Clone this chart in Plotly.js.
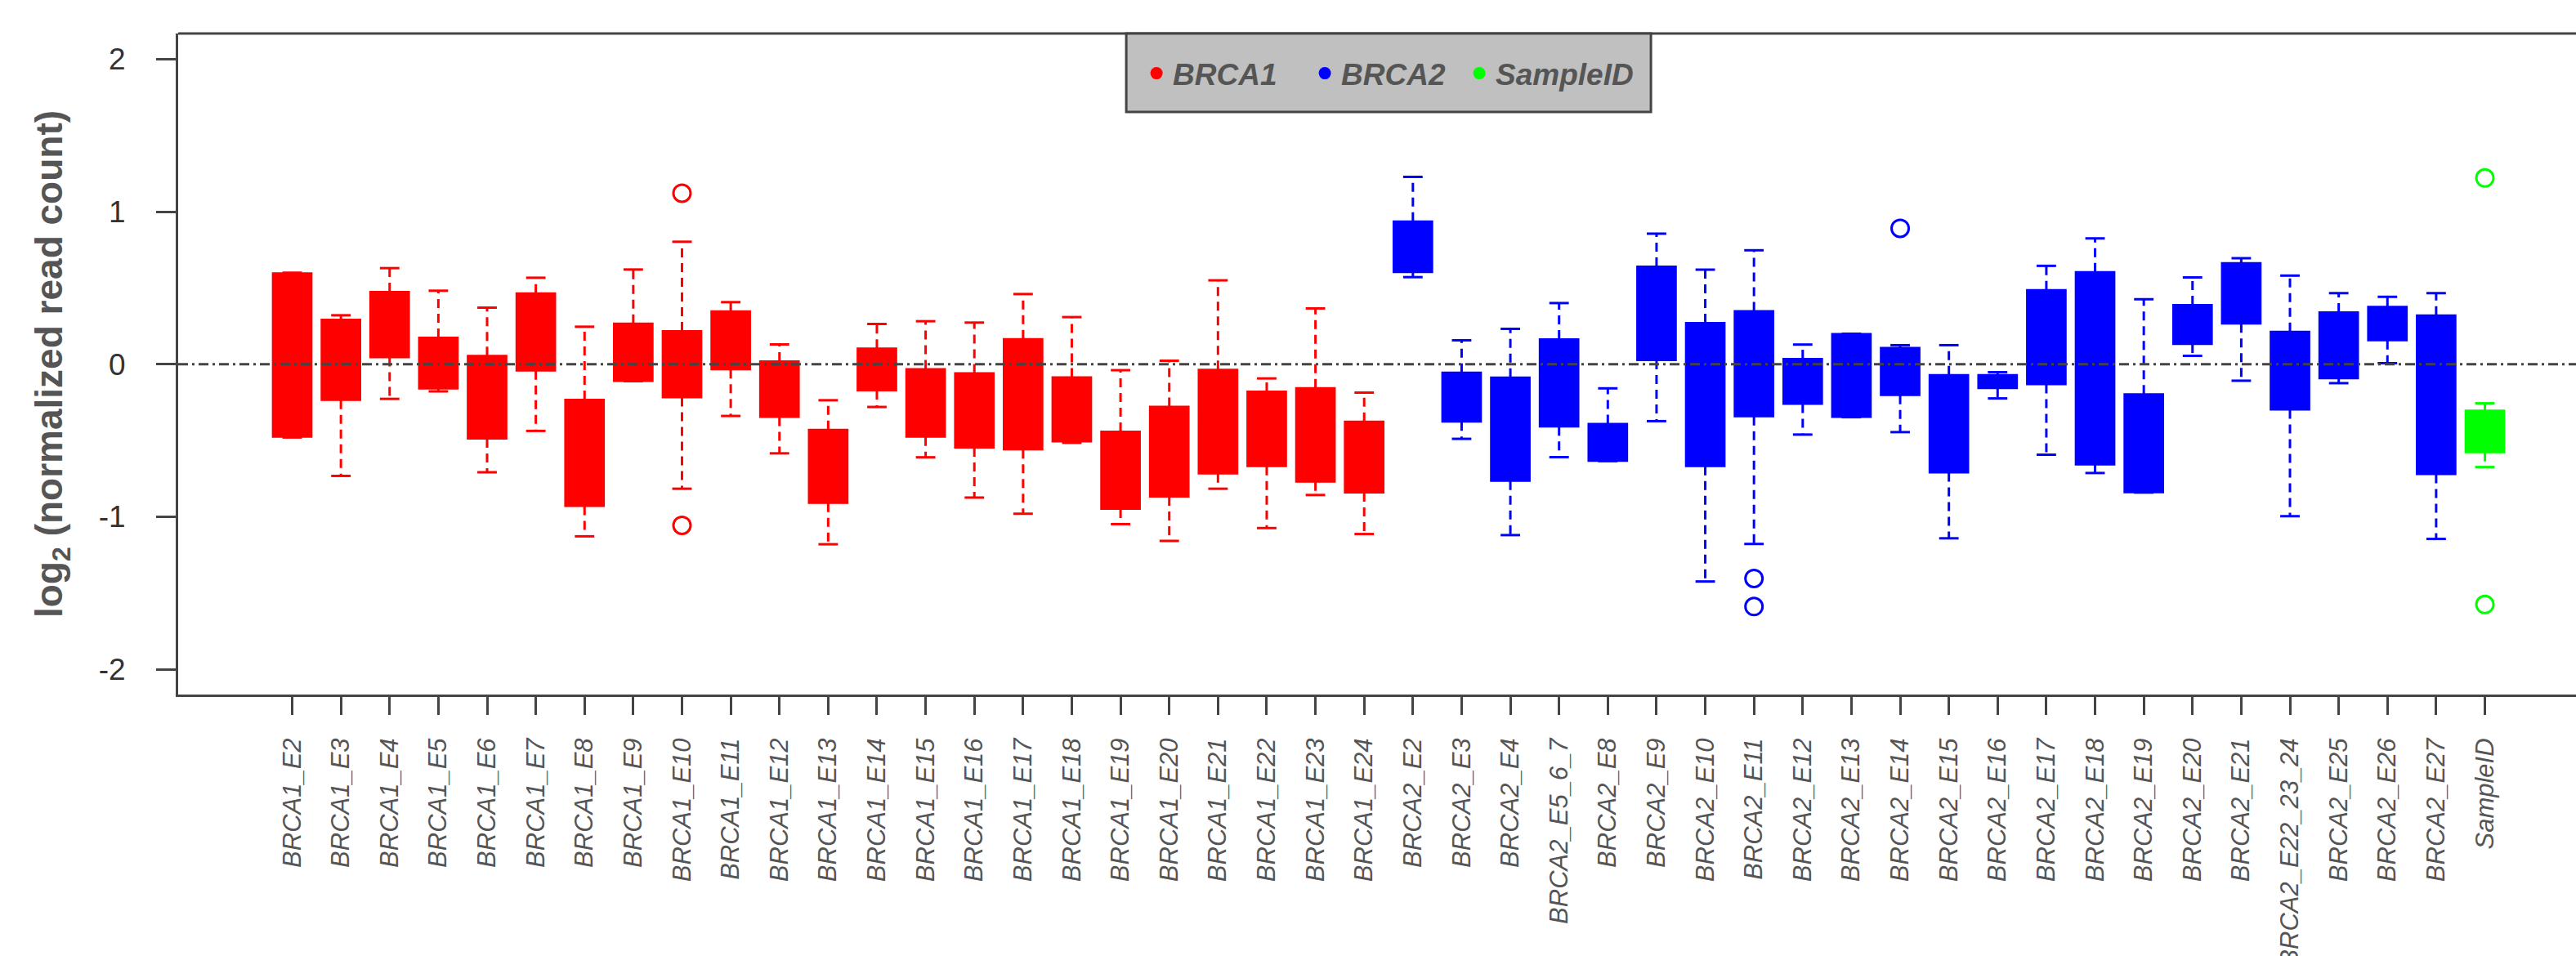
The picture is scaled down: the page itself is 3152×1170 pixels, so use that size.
<!DOCTYPE html>
<html>
<head>
<meta charset="utf-8">
<script src="https://cdn.plot.ly/plotly-3.0.1.min.js"></script>
<style>html,body{margin:0;padding:0;background:#fff;}#chart{width:3152px;height:1170px;}</style>
</head>
<body>
<div id="chart"></div>
<script>
// ---------------- DATA ----------------
var categories = [
  "BRCA1_E2","BRCA1_E3","BRCA1_E4","BRCA1_E5","BRCA1_E6","BRCA1_E7","BRCA1_E8","BRCA1_E9",
  "BRCA1_E10","BRCA1_E11","BRCA1_E12","BRCA1_E13","BRCA1_E14","BRCA1_E15","BRCA1_E16","BRCA1_E17",
  "BRCA1_E18","BRCA1_E19","BRCA1_E20","BRCA1_E21","BRCA1_E22","BRCA1_E23","BRCA1_E24",
  "BRCA2_E2","BRCA2_E3","BRCA2_E4","BRCA2_E5_6_7","BRCA2_E8","BRCA2_E9","BRCA2_E10","BRCA2_E11",
  "BRCA2_E12","BRCA2_E13","BRCA2_E14","BRCA2_E15","BRCA2_E16","BRCA2_E17","BRCA2_E18","BRCA2_E19",
  "BRCA2_E20","BRCA2_E21","BRCA2_E22_23_24","BRCA2_E25","BRCA2_E26","BRCA2_E27","SampleID"
];
var upperWhisker = [0.600,0.321,0.630,0.482,0.371,0.567,0.246,0.621,0.803,0.407,0.130,-0.236,0.264,0.282,0.273,0.460,0.309,-0.039,0.023,0.550,-0.093,0.366,-0.186,
  1.228,0.157,0.232,0.401,-0.158,0.856,0.620,0.747,0.129,0.200,0.125,0.125,-0.052,0.645,0.825,0.426,0.569,0.695,0.581,0.466,0.442,0.466,-0.256];
var q3 = [0.598,0.294,0.475,0.175,0.057,0.466,-0.232,0.268,0.219,0.348,0.020,-0.428,0.104,-0.030,-0.057,0.166,-0.084,-0.441,-0.277,-0.034,-0.178,-0.155,-0.375,
  0.937,-0.054,-0.086,0.165,-0.390,0.641,0.272,0.350,0.036,0.200,0.108,-0.070,-0.070,0.487,0.605,-0.196,0.390,0.664,0.215,0.342,0.378,0.322,-0.303];
var medianVal = [0.10,0.02,0.25,0.00,-0.20,0.20,-0.55,0.08,0.00,0.15,-0.15,-0.65,-0.03,-0.25,-0.30,-0.20,-0.30,-0.70,-0.55,-0.35,-0.40,-0.45,-0.60,
  0.75,-0.20,-0.40,-0.10,-0.50,0.30,-0.20,0.00,-0.10,-0.05,-0.05,-0.40,-0.11,0.15,0.00,-0.50,0.25,0.45,-0.05,0.12,0.27,-0.20,-0.44];
var q1 = [-0.476,-0.236,0.045,-0.161,-0.489,-0.043,-0.931,-0.111,-0.218,-0.034,-0.346,-0.910,-0.173,-0.476,-0.548,-0.560,-0.507,-0.949,-0.869,-0.717,-0.669,-0.771,-0.842,
  0.603,-0.378,-0.766,-0.410,-0.635,0.026,-0.670,-0.343,-0.261,-0.347,-0.203,-0.711,-0.158,-0.132,-0.658,-0.841,0.132,0.265,-0.299,-0.093,0.155,-0.722,-0.578];
var lowerWhisker = [-0.480,-0.732,-0.227,-0.178,-0.708,-0.437,-1.128,-0.111,-0.816,-0.339,-0.584,-1.180,-0.280,-0.610,-0.874,-0.980,-0.515,-1.048,-1.158,-0.816,-1.074,-0.857,-1.113,
  0.571,-0.489,-1.120,-0.609,-0.635,-0.373,-1.424,-1.178,-0.461,-0.347,-0.445,-1.141,-0.224,-0.593,-0.713,-0.841,0.055,-0.108,-0.996,-0.124,0.007,-1.145,-0.674];
var outlierCategory = ["BRCA1_E10","BRCA1_E10","BRCA2_E11","BRCA2_E11","BRCA2_E14","SampleID","SampleID"];
var outlierValue = [1.121,-1.056,-1.404,-1.588,0.891,1.221,-1.575];
var groupNames = ["BRCA1","BRCA2","SampleID"];
var groupColors = ["#ff0000","#0000ff","#00ff00"];
var yTickValues = [-2,-1,0,1,2];
var yTickLabels = ["-2","-1","0","1","2"];

// ---------------- BUILD ----------------
function groupOf(name){
  for (var g = 0; g < groupNames.length; g++) { if (name.indexOf(groupNames[g]) === 0) return g; }
  return groupNames.length - 1;
}
var FONT = "Liberation Sans, Arial, Helvetica, sans-serif";
var traces = [];
var capHalf = 0.2;
groupNames.forEach(function(gname, g){
  var col = groupColors[g];
  var bx=[], bq1=[], bmed=[], bq3=[];
  var wx=[], wy=[], cx=[], cy=[];
  categories.forEach(function(c, i){
    if (groupOf(c) !== g) return;
    bx.push(i); bq1.push(q1[i]); bmed.push(medianVal[i]); bq3.push(q3[i]);
    wx.push(i, i, null, i, i, null);
    wy.push(q3[i], upperWhisker[i], null, q1[i], lowerWhisker[i], null);
    cx.push(i - capHalf, i + capHalf, null, i - capHalf, i + capHalf, null);
    cy.push(upperWhisker[i], upperWhisker[i], null, lowerWhisker[i], lowerWhisker[i], null);
  });
  traces.push({type:"scatter", mode:"lines", x:wx, y:wy, showlegend:false, hoverinfo:"skip",
    line:{color:col, width:3, dash:"11px,7px"}, connectgaps:false});
  traces.push({type:"scatter", mode:"lines", x:cx, y:cy, showlegend:false, hoverinfo:"skip",
    line:{color:col, width:3}, connectgaps:false});
  traces.push({type:"box", name:gname, x:bx, q1:bq1, median:bmed, q3:bq3,
    lowerfence:bq1, upperfence:bq3, width:0.8, whiskerwidth:0, boxpoints:false,
    fillcolor:col, line:{color:col, width:2}, showlegend:false, hoverinfo:"skip"});
  var ox=[], oy=[];
  outlierCategory.forEach(function(c, k){ if (groupOf(c) === g) { ox.push(categories.indexOf(c)); oy.push(outlierValue[k]); } });
  traces.push({type:"scatter", mode:"markers", x:ox, y:oy, showlegend:false, hoverinfo:"skip",
    marker:{symbol:"circle-open", size:21, color:col, line:{width:3, color:col}}});
});
// legend entries: one legend per group so each entry can be placed like the reference
var legendIds = ["legend","legend2","legend3"];
var legendX = [0.4012, 0.4714, 0.5358];
groupNames.forEach(function(gname, g){
  traces.push({type:"scatter", mode:"markers", x:[null], y:[null], name:gname, showlegend:true,
    legend:legendIds[g], marker:{symbol:"circle", size:15, color:groupColors[g]}});
});

var tickIdx = categories.map(function(c, i){ return i; });

var layout = {
  width:3152, height:1170,
  margin:{l:218, r:0, t:41, b:320, pad:0},
  paper_bgcolor:"#ffffff", plot_bgcolor:"#ffffff",
  boxmode:"overlay",
  showlegend:true,
  font:{family:FONT},
  xaxis:{
    range:[-2.34, 46.87], tickmode:"array", tickvals:tickIdx, ticktext:categories,
    tickangle:-90, tickfont:{family:FONT, size:31, color:"#555555", style:"italic"},
    ticks:"outside", ticklen:22, tickwidth:3, tickcolor:"#444444",
    ticklabelstandoff:16,
    showline:true, linewidth:3, linecolor:"#444444",
    showgrid:false, zeroline:false, fixedrange:true
  },
  yaxis:{
    range:[-2.165, 2.168], tickmode:"array", tickvals:yTickValues, ticktext:yTickLabels,
    tickfont:{family:FONT, size:37, color:"#333333"},
    ticks:"outside", ticklen:24, tickwidth:3, tickcolor:"#444444",
    ticklabelstandoff:30,
    showline:true, linewidth:3, linecolor:"#444444",
    showgrid:false, zeroline:false, fixedrange:true,
    title:{text:"log<sub>2</sub> (normalized read count)", standoff:30,
      font:{family:FONT, size:46, color:"#555555", weight:"bold"}}
  },
  shapes:[
    {type:"line", xref:"paper", yref:"paper", x0:0, x1:1, y0:1, y1:1, line:{color:"#444444", width:3}},
    {type:"line", xref:"paper", yref:"y", x0:0, x1:1, y0:0, y1:0, line:{color:"#444444", width:3, dash:"12px,5px,3px,5px"}},
    {type:"rect", xref:"paper", yref:"paper", x0:0.3954, x1:0.6142, y0:0.8813, y1:1,
      fillcolor:"#c0c0c0", line:{color:"#444444", width:3}}
  ]
};
legendIds.forEach(function(id, g){
  layout[id] = {
    orientation:"h", x:legendX[g], xanchor:"left", y:0.9394, yanchor:"middle",
    bgcolor:"rgba(0,0,0,0)", borderwidth:0,
    font:{family:FONT, size:37, color:"#555555", weight:"bold", style:"italic"}
  };
});

Plotly.newPlot("chart", traces, layout, {staticPlot:true, displayModeBar:false});
</script>
</body>
</html>
